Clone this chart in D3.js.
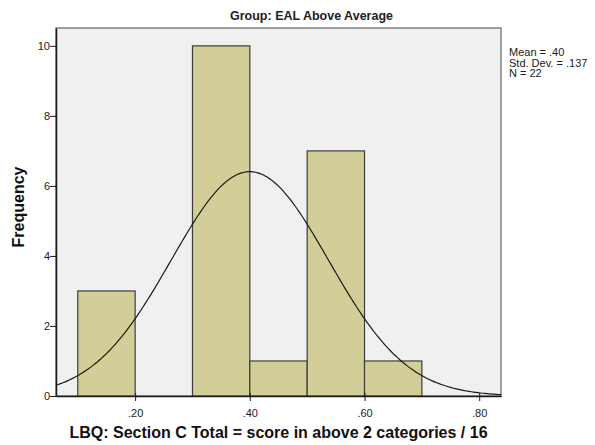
<!DOCTYPE html>
<html>
<head>
    <meta charset="utf-8">
    <script src="https://cdn.jsdelivr.net/npm/d3@7"></script>
    <style>
        body { margin: 0; background: white; }
        text { font-family: "Liberation Sans", Arial, sans-serif; }
    </style>
</head>
<body>
    <div id="chart"></div>
    <script>
        // histogram bins (lower edge, upper edge) and counts
        const binStarts = [0.1, 0.3, 0.4, 0.5, 0.6];
        const binEnds = [0.2, 0.4, 0.5, 0.6, 0.7];
        const counts = [3, 10, 1, 7, 1];
        const xTicks = [0.2, 0.4, 0.6, 0.8];
        const yTicks = [0, 2, 4, 6, 8, 10];
        const statLines = ["Mean = .40", "Std. Dev. = .137", "N = 22"];
        const mean = 0.40, sd = 0.137, n = 22, binWidth = 0.1;

        const width = 595, height = 445;
        const margin = { left: 56, right: 94, top: 28, bottom: 49 };

        const svg = d3.select("#chart").append("svg")
            .attr("width", width)
            .attr("height", height);

        const x = d3.scaleLinear()
            .domain([0.062, 0.838])
            .range([margin.left, width - margin.right]);
        const y = d3.scaleLinear()
            .domain([0, 10.51])
            .range([height - margin.bottom, margin.top]);

        // plot background
        svg.append("rect")
            .attr("x", margin.left)
            .attr("y", margin.top)
            .attr("width", width - margin.left - margin.right)
            .attr("height", height - margin.top - margin.bottom)
            .attr("fill", "#f0f0f0")
            .attr("stroke", "#808080")
            .attr("stroke-width", 1.5);

        // bars
        svg.selectAll(".bar")
            .data(counts)
            .join("rect")
            .attr("class", "bar")
            .attr("x", (d, i) => x(binStarts[i]))
            .attr("y", d => y(d))
            .attr("width", (d, i) => x(binEnds[i]) - x(binStarts[i]))
            .attr("height", d => y(0) - y(d))
            .attr("fill", "#d3ce98")
            .attr("stroke", "#3c3c3c")
            .attr("stroke-width", 1.2);

        // normal curve
        const curvePts = d3.range(0.062, 0.8381, 0.004).map(v => {
            const z = (v - mean) / sd;
            return [v, n * binWidth / (sd * Math.sqrt(2 * Math.PI)) * Math.exp(-0.5 * z * z)];
        });
        svg.append("path")
            .datum(curvePts)
            .attr("fill", "none")
            .attr("stroke", "#1a1a1a")
            .attr("stroke-width", 1.2)
            .attr("d", d3.line().x(d => x(d[0])).y(d => y(d[1])));

        // axes
        const xAxis = svg.append("g")
            .attr("transform", `translate(0,${height - margin.bottom})`)
            .call(d3.axisBottom(x).tickValues(xTicks).tickSize(6).tickSizeOuter(0)
                .tickFormat(d => d3.format(".2f")(d).replace(/^0/, "")));
        xAxis.select(".domain").attr("stroke", "#1a1a1a").attr("stroke-width", 1.5);
        xAxis.selectAll(".tick line").attr("stroke", "#1a1a1a").attr("y1", -3).attr("y2", 5);
        xAxis.selectAll(".tick text").attr("font-size", 11).attr("fill", "#222").attr("dy", "1.05em");

        const yAxis = svg.append("g")
            .attr("transform", `translate(${margin.left},0)`)
            .call(d3.axisLeft(y).tickValues(yTicks).tickSize(6).tickSizeOuter(0));
        yAxis.select(".domain").attr("stroke", "#1a1a1a").attr("stroke-width", 1.5);
        yAxis.selectAll(".tick line").attr("stroke", "#1a1a1a");
        yAxis.selectAll(".tick text").attr("font-size", 11).attr("fill", "#222").attr("x", -6);

        // title
        svg.append("text")
            .attr("x", (margin.left + width - margin.right) / 2 + 33)
            .attr("y", 20)
            .attr("text-anchor", "middle")
            .attr("font-size", 12.5)
            .attr("font-weight", "bold")
            .attr("fill", "#222")
            .text("Group: EAL Above Average");

        // axis labels
        svg.append("text")
            .attr("x", (margin.left + width - margin.right) / 2)
            .attr("y", 438)
            .attr("text-anchor", "middle")
            .attr("font-size", 16)
            .attr("font-weight", "bold")
            .attr("fill", "#111")
            .text("LBQ: Section C Total = score in above 2 categories / 16");

        svg.append("text")
            .attr("transform", "translate(24,207) rotate(-90)")
            .attr("text-anchor", "middle")
            .attr("font-size", 16)
            .attr("font-weight", "bold")
            .attr("fill", "#111")
            .text("Frequency");

        // stats box
        svg.selectAll(".stat")
            .data(statLines)
            .join("text")
            .attr("class", "stat")
            .attr("x", 509)
            .attr("y", (d, i) => 56 + i * 10.5)
            .attr("font-size", 11)
            .attr("fill", "#222")
            .text(d => d);
    </script>
</body>
</html>
